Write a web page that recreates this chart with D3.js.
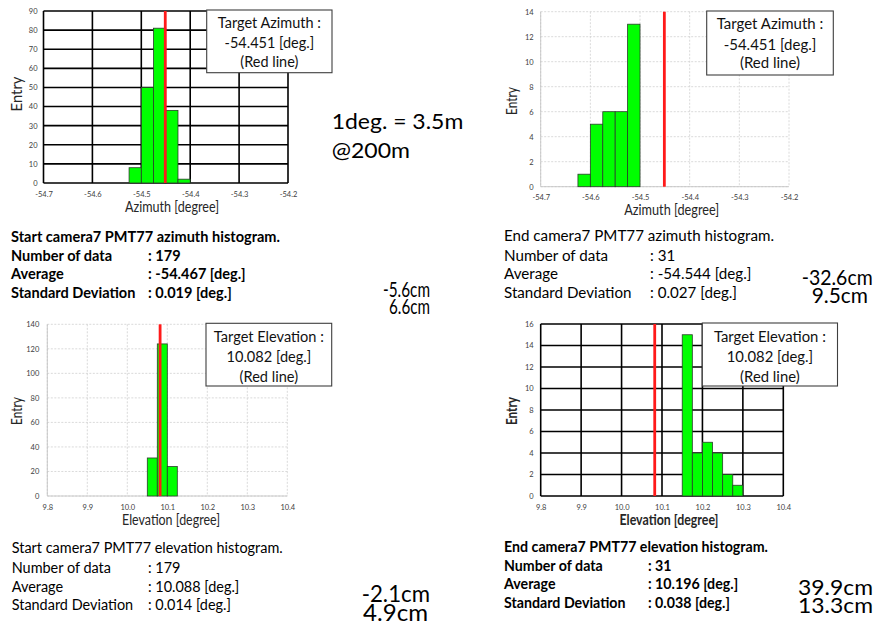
<!DOCTYPE html>
<html><head><meta charset="utf-8">
<script src="https://cdn.jsdelivr.net/npm/d3@7"></script>
<style>body{margin:0;background:#fff}svg{display:block}</style>
</head><body>
<svg id="c" width="885" height="626"></svg>
<script>
// ---------- DATA ----------
const azTickLabels = ["-54.7","-54.6","-54.5","-54.4","-54.3","-54.2"];
const elTickLabels = ["9.8","9.9","10.0","10.1","10.2","10.3","10.4"];
const binWidth = 0.025;

const startAzBins = [-54.525,-54.5,-54.475,-54.45,-54.425];
const startAzCounts = [8,50,81,38,2];
const startAzYTicks = [0,10,20,30,40,50,60,70,80,90];

const endAzBins = [-54.625,-54.6,-54.575,-54.55,-54.525];
const endAzCounts = [1,5,6,6,13];
const endAzYTicks = [0,2,4,6,8,10,12,14];

const startElBins = [10.05,10.075,10.1];
const startElCounts = [31,124,24];
const startElYTicks = [0,20,40,60,80,100,120,140];

const endElBins = [10.15,10.175,10.2,10.225,10.25,10.275];
const endElCounts = [15,4,5,4,2,1];
const endElYTicks = [0,2,4,6,8,10,12,14,16];

const targetAzimuth = -54.451;
const targetElevation = 10.082;

const statLabels = ["Number of data","Average","Standard Deviation"];
const startAzStats = [": 179",": -54.467 [deg.]",": 0.019 [deg.]"];
const endAzStats = [": 31",": -54.544 [deg.]",": 0.027 [deg.]"];
const startElStats = [": 179",": 10.088 [deg.]",": 0.014 [deg.]"];
const endElStats = [": 31",": 10.196 [deg.]",": 0.038 [deg.]"];

// ---------- DRAW ----------
const svg = d3.select("#c");
const FONT = "Lato, 'Liberation Sans', sans-serif";

function fit(t, w){ t.attr("textLength", w).attr("lengthAdjust","spacingAndGlyphs"); return t; }

function drawChart(o){
  const g = svg.append("g");
  const x = d3.scaleLinear().domain([+o.xTicks[0], +o.xTicks[o.xTicks.length-1]]).range([o.L,o.R]);
  const y = d3.scaleLinear().domain([0, o.yTicks[o.yTicks.length-1]]).range([o.B,o.T]);
  const solid = o.grid === "solid";
  const gc = solid ? "#000" : "#d0d0d0";
  const gw = solid ? 1.6 : 0.8;
  const gd = solid ? null : "2,1.5";
  g.append("g").selectAll("line").data(o.xTicks).join("line")
    .attr("x1", d=>x(+d)).attr("x2", d=>x(+d)).attr("y1", o.T).attr("y2", o.B)
    .attr("stroke", gc).attr("stroke-width", gw).attr("stroke-dasharray", gd);
  g.append("g").selectAll("line").data(o.yTicks).join("line")
    .attr("x1", o.L).attr("x2", o.R).attr("y1", d=>y(d)).attr("y2", d=>y(d))
    .attr("stroke", gc).attr("stroke-width", gw).attr("stroke-dasharray", gd);
  if(!solid){
    g.append("line").attr("x1",o.L).attr("x2",o.L).attr("y1",o.T).attr("y2",o.B).attr("stroke","#bfbfbf").attr("stroke-width",0.8);
    g.append("line").attr("x1",o.L).attr("x2",o.R).attr("y1",o.B).attr("y2",o.B).attr("stroke","#bfbfbf").attr("stroke-width",0.8);
  }
  g.append("g").selectAll("rect").data(o.bins.map((b,i)=>({b, c:o.counts[i]}))).join("rect")
    .attr("x", d=>x(d.b)).attr("width", d=>x(d.b+binWidth)-x(d.b))
    .attr("y", d=>y(d.c)).attr("height", d=>o.B - y(d.c))
    .attr("fill","#00ff00").attr("stroke","#2b3b2b").attr("stroke-width",0.8);
  g.append("line").attr("x1", x(o.target)).attr("x2", x(o.target)).attr("y1", o.T).attr("y2", o.B)
    .attr("stroke","#ff1a1a").attr("stroke-width",2.8);
  const ya = g.append("g").attr("transform",`translate(${o.L},0)`)
    .call(d3.axisLeft(y).tickValues(o.yTicks).tickSize(0).tickPadding(o.yPad).tickFormat(d3.format("d")));
  ya.select(".domain").remove();
  ya.selectAll("text").attr("font-family", FONT).attr("font-size", 7.5).attr("fill","#404040");
  const xa = g.append("g").attr("transform",`translate(0,${o.B})`)
    .call(d3.axisBottom(x).tickValues(o.xTicks.map(Number)).tickSize(0).tickPadding(o.xPad)
      .tickFormat((d,i)=>o.xTicks[i]));
  xa.select(".domain").remove();
  xa.selectAll("text").attr("font-family", FONT).attr("font-size", 7.5).attr("fill","#404040");
  fit(g.append("text").attr("x", o.xtX).attr("y", o.xtY).attr("text-anchor","middle")
    .attr("font-family",FONT).attr("font-size",14.5).attr("font-weight", o.bold?"bold":"normal")
    .attr("fill","#262626").text(o.xTitle), o.xtW);
  fit(g.append("text").attr("transform",`translate(${o.ytX},${o.ytY}) rotate(-90)`).attr("text-anchor","middle")
    .attr("font-family",FONT).attr("font-size",14.5).attr("font-weight", o.bold?"bold":"normal")
    .attr("fill","#262626").text("Entry"), o.ytW);
  g.append("rect").attr("x",o.box[0]).attr("y",o.box[1]).attr("width",o.box[2]-o.box[0]).attr("height",o.box[3]-o.box[1])
    .attr("fill","#fff").attr("stroke","#3f3f3f").attr("stroke-width",1.1);
  const cx = (o.box[0]+o.box[2])/2;
  const t0 = g.append("text").attr("x",cx).attr("y",o.boxY[0]).attr("text-anchor","middle")
    .attr("font-family",FONT).attr("font-size",14.5).attr("fill","#111").text(o.boxLines[0]);
  const r = o.boxW / t0.node().getComputedTextLength();
  fit(t0, o.boxW);
  for(let i=1;i<3;i++){
    const t = g.append("text").attr("x",cx).attr("y",o.boxY[i]).attr("text-anchor","middle")
      .attr("font-family",FONT).attr("font-size",14.5).attr("fill","#111").text(o.boxLines[i]);
    fit(t, t.node().getComputedTextLength()*r);
  }
}

function drawStats(o){
  const g = svg.append("g");
  const w = o.bold ? "bold" : "normal";
  const t0 = g.append("text").attr("x",o.x).attr("y",o.ys[0]).attr("font-family",FONT).attr("font-size",14.5)
    .attr("font-weight",w).attr("fill","#000").text(o.title);
  const r = o.titleW / t0.node().getComputedTextLength();
  fit(t0, o.titleW);
  statLabels.forEach((lab,i)=>{
    const a = g.append("text").attr("x",o.x).attr("y",o.ys[i+1]).attr("font-family",FONT).attr("font-size",14.5)
      .attr("font-weight",w).attr("fill","#000").text(lab);
    fit(a, a.node().getComputedTextLength()*r);
    const b = g.append("text").attr("x",o.colX).attr("y",o.ys[i+1]).attr("font-family",FONT).attr("font-size",14.5)
      .attr("font-weight",w).attr("fill","#000").text(o.vals[i]);
    fit(b, b.node().getComputedTextLength()*r);
  });
}

function bigText(txt, x, y, size, w){
  fit(svg.append("text").attr("x",x).attr("y",y).attr("font-family",FONT).attr("font-size",size)
    .attr("fill","#000").text(txt), w);
}

drawChart({L:43.5,R:288,T:11,B:183,xTicks:azTickLabels,yTicks:startAzYTicks,bins:startAzBins,counts:startAzCounts,
  target:targetAzimuth,grid:"solid",yPad:6,xPad:9,xTitle:"Azimuth [degree]",xtX:172,xtY:211.5,xtW:94,
  ytX:21.5,ytY:94,ytW:35,bold:false,box:[206.7,10,332,72.7],boxY:[28.3,48.3,67],
  boxLines:["Target Azimuth :","-54.451 [deg.]","(Red line)"],boxW:103});
drawChart({L:540.7,R:789,T:11.7,B:186.7,xTicks:azTickLabels,yTicks:endAzYTicks,bins:endAzBins,counts:endAzCounts,
  target:targetAzimuth,grid:"dashed",yPad:7,xPad:8,xTitle:"Azimuth [degree]",xtX:671.7,xtY:215,xtW:95,
  ytX:517,ytY:101,ytW:28,bold:false,box:[706.7,11,833.3,75],boxY:[29.3,49.5,68],
  boxLines:["Target Azimuth :","-54.451 [deg.]","(Red line)"],boxW:106.6});
drawChart({L:47.3,R:287.3,T:324.3,B:496,xTicks:elTickLabels,yTicks:startElYTicks,bins:startElBins,counts:startElCounts,
  target:targetElevation,grid:"dashed",yPad:8,xPad:9,xTitle:"Elevation [degree]",xtX:171,xtY:524.5,xtW:98,
  ytX:21.5,ytY:411,ytW:28,bold:false,box:[206,323.3,331.7,386],boxY:[341.7,362.3,381.7],
  boxLines:["Target Elevation :","10.082 [deg.]","(Red line)"],boxW:110});
drawChart({L:540.7,R:783.3,T:324,B:496,xTicks:elTickLabels,yTicks:endElYTicks,bins:endElBins,counts:endElCounts,
  target:targetElevation,grid:"solid",yPad:7,xPad:9,xTitle:"Elevation [degree]",xtX:669,xtY:524.5,xtW:99,
  ytX:517,ytY:411,ytW:28,bold:true,box:[702.3,323,837.5,386],boxY:[341.7,362.3,381.7],
  boxLines:["Target Elevation :","10.082 [deg.]","(Red line)"],boxW:112});

drawStats({x:11,colX:148,ys:[241.5,260.5,279,297.5],bold:true,title:"Start camera7 PMT77 azimuth histogram.",titleW:269,vals:startAzStats});
drawStats({x:504,colX:650,ys:[240.5,260.5,279,297.5],bold:false,title:"End camera7 PMT77 azimuth histogram.",titleW:270,vals:endAzStats});
drawStats({x:11.7,colX:148,ys:[553,573,591.5,610],bold:false,title:"Start camera7 PMT77 elevation histogram.",titleW:271,vals:startElStats});
drawStats({x:504,colX:648,ys:[551.5,570.5,589,607.5],bold:true,title:"End camera7 PMT77 elevation histogram.",titleW:264,vals:endElStats});

bigText("1deg. = 3.5m",331.7,129,21.5,131.6);
bigText("@200m",331.7,158.3,21.5,78.3);
bigText("-5.6cm",383,297.3,21,47);
bigText("6.6cm",389,314,21,41);
bigText("-32.6cm",801.7,285,21.5,71);
bigText("9.5cm",811.7,303.3,21.5,56.3);
bigText("-2.1cm",361.7,601.7,23.5,68.3);
bigText("4.9cm",363,620.7,23.5,65);
bigText("39.9cm",798,595,21.5,75);
bigText("13.3cm",798,613.3,21.5,75);
</script>
</body></html>
